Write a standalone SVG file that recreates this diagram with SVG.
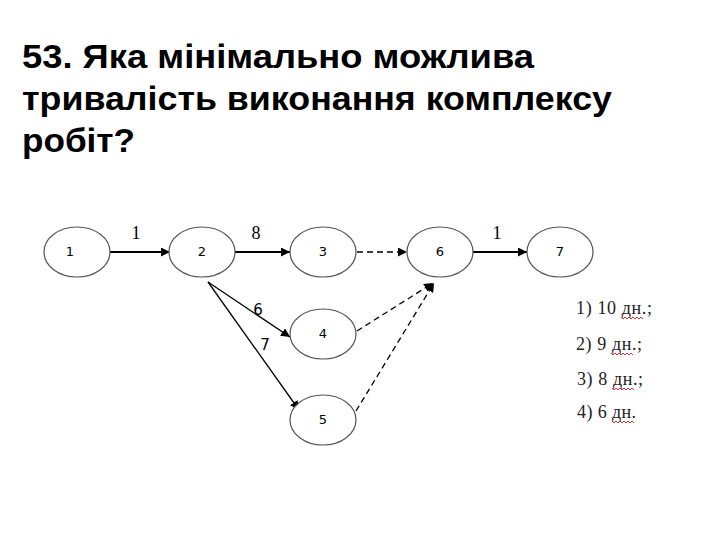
<svg xmlns="http://www.w3.org/2000/svg" width="720" height="540" viewBox="0 0 720 540">
<style>
.t{font-family:"Liberation Sans",Arial,sans-serif;font-weight:bold;font-size:33px;fill:#000}
.n ellipse{fill:#fff;stroke:#555;stroke-width:1.2}
.n text{font-family:"DejaVu Sans",sans-serif;font-size:13px;text-anchor:middle;fill:#000}
.e{stroke:#000;stroke-width:1.3;fill:none}
.s{stroke-width:2}
.d{stroke-dasharray:6 4}
.l{font-family:"Liberation Serif",serif;font-size:18px;fill:#000;text-anchor:middle}
.ls{font-family:"DejaVu Sans",sans-serif;font-size:15px;fill:#000;text-anchor:middle}
.a{font-family:"Liberation Serif",serif;font-size:18px;fill:#222}
.w{stroke:#c00;stroke-width:0.8;fill:none}
</style>
<defs><marker id="ar" viewBox="0 0 10 10" refX="10" refY="5" markerWidth="9" markerHeight="9" markerUnits="userSpaceOnUse" orient="auto"><path d="M0,0L10,5L0,10z" fill="#000"/></marker></defs>
<text class="t" x="22" y="68" textLength="512" lengthAdjust="spacingAndGlyphs">53. Яка мінімально можлива</text>
<text class="t" x="22" y="110" textLength="590" lengthAdjust="spacingAndGlyphs">тривалість виконання комплексу</text>
<text class="t" x="22" y="152" textLength="113" lengthAdjust="spacingAndGlyphs">робіт?</text>
<g id="connectors">
<line class="e s" x1="110" y1="252" x2="170" y2="252" marker-end="url(#ar)"/>
<line class="e s" x1="235" y1="252" x2="290" y2="252" marker-end="url(#ar)"/>
<line class="e d" x1="357" y1="252" x2="407" y2="252" marker-end="url(#ar)"/>
<line class="e s" x1="472" y1="252" x2="527" y2="252" marker-end="url(#ar)"/>
<line class="e" x1="208" y1="282" x2="290" y2="337" marker-end="url(#ar)"/>
<line class="e" x1="208" y1="282" x2="299" y2="410" marker-end="url(#ar)"/>
<line class="e d" x1="357" y1="331" x2="433" y2="283" marker-end="url(#ar)"/>
<line class="e d" x1="356" y1="411" x2="434" y2="283" marker-end="url(#ar)"/>
<text class="l" x="136" y="239">1</text>
<text class="l" x="256" y="239">8</text>
<text class="l" x="497" y="239">1</text>
<text class="ls" x="258" y="315">6</text>
<text class="ls" x="265" y="350">7</text>
</g>
<g id="n1" class="n"><ellipse cx="77" cy="252" rx="33" ry="25"/><text x="70" y="256">1</text></g>
<g id="n2" class="n"><ellipse cx="202" cy="252" rx="33" ry="25"/><text x="202" y="256">2</text></g>
<g id="n3" class="n"><ellipse cx="323" cy="252" rx="33" ry="25"/><text x="323" y="256">3</text></g>
<g id="n6" class="n"><ellipse cx="440" cy="252" rx="33" ry="25"/><text x="440" y="256">6</text></g>
<g id="n7" class="n"><ellipse cx="560" cy="252" rx="33" ry="25"/><text x="560" y="256">7</text></g>
<g id="n4" class="n"><ellipse cx="323" cy="334" rx="33" ry="25"/><text x="323" y="338">4</text></g>
<g id="n5" class="n"><ellipse cx="323" cy="420" rx="33" ry="25"/><text x="323" y="424">5</text></g>
<g id="answers">
<text class="a" x="576" y="314" textLength="76">1) 10 дн.;</text>
<text class="a" x="576" y="350" textLength="66">2) 9 дн.;</text>
<text class="a" x="577" y="385" textLength="66">3) 8 дн.;</text>
<text class="a" x="577" y="418" textLength="59">4) 6 дн.</text>
<path class="w" d="M621,317 l2,2 2,-2 2,2 2,-2 2,2 2,-2 2,2 2,-2 2,2 2,-2 2,2"/>
<path class="w" d="M611,353 l2,2 2,-2 2,2 2,-2 2,2 2,-2 2,2 2,-2 2,2 2,-2 2,2"/>
<path class="w" d="M612,388 l2,2 2,-2 2,2 2,-2 2,2 2,-2 2,2 2,-2 2,2 2,-2 2,2"/>
<path class="w" d="M612,421 l2,2 2,-2 2,2 2,-2 2,2 2,-2 2,2 2,-2 2,2 2,-2 2,2"/>
</g>
</svg>
